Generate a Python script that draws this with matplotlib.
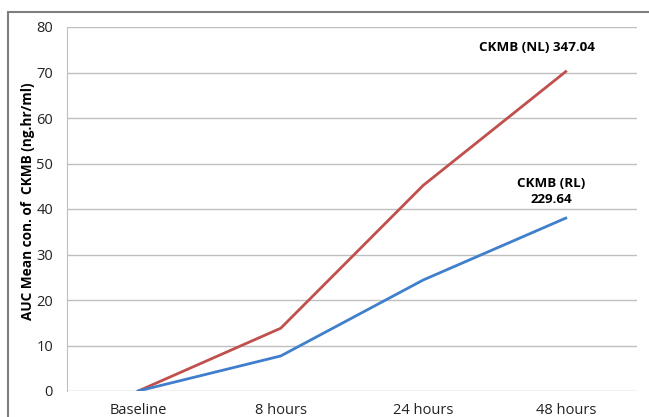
import matplotlib.pyplot as plt
from matplotlib.patches import Rectangle

plt.rcParams['font.family'] = ['Open Sans', 'DejaVu Sans']

tiempos = ['Baseline', '8 hours', '24 hours', '48 hours']
ckmb_nl = [0.0, 13.8, 45.2, 70.2]
ckmb_rl = [0.0, 7.7, 24.4, 38.0]
yticks = [0, 10, 20, 30, 40, 50, 60, 70, 80]

W, H = 649, 417
fig = plt.figure(figsize=(W / 100, H / 100), dpi=100)
ax = fig.add_axes([67 / W, 26 / H, 570 / W, 364 / H])

# marco exterior del grafico
fig.patches.append(Rectangle((8 / W, -0.1), 1.1, (H - 12) / H + 0.1,
                             transform=fig.transFigure, fill=False,
                             edgecolor='#7f7f7f', linewidth=1.5))

x = range(len(tiempos))
ax.plot(x, ckmb_nl, color='#C0504D', linewidth=2, zorder=3)
ax.plot(x, ckmb_rl, color='#3F7FCB', linewidth=2, zorder=3)

ax.set_xlim(-0.5, 3.5)
ax.set_ylim(0, 80)
ax.set_yticks(yticks)
ax.set_xticks(list(x))
ax.set_xticklabels(tiempos)
ax.tick_params(axis='both', length=0, labelsize=10.5, colors='#222222')
ax.tick_params(axis='y', pad=10)
ax.tick_params(axis='x', pad=9)
ax.grid(axis='y', color='#bfbfbf', linewidth=1)
ax.set_axisbelow(True)
for s in ['top', 'right', 'bottom']:
    ax.spines[s].set_visible(False)
ax.spines['left'].set_color('#bfbfbf')

ax.set_ylabel('AUC Mean con. of  CKMB (ng.hr/ml)', fontsize=9.8,
              fontweight='bold', va='center')
ax.yaxis.set_label_coords(-39 / 570, 0.52)

ax.text(2.80, 75.4, 'CKMB (NL) 347.04', ha='center', va='center',
        fontsize=9.6, fontweight='bold')
ax.text(2.90, 43.8, 'CKMB (RL)\n229.64', ha='center', va='center',
        fontsize=9.6, fontweight='bold', linespacing=1.3)

fig.savefig('out.png', dpi=100)
